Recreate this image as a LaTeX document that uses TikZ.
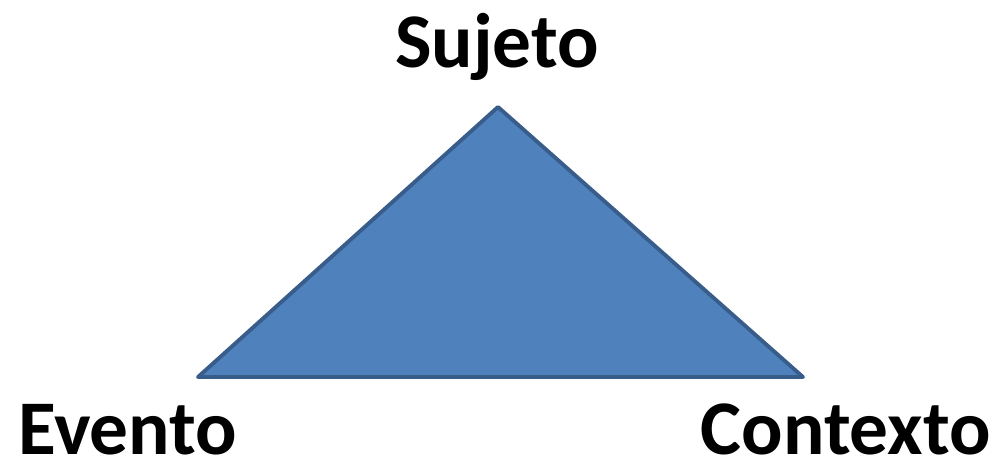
\documentclass[tikz,border=0pt]{standalone}
\usepackage{fontspec}
\setmainfont{Carlito}
\definecolor{triFill}{HTML}{4F81BD}
\definecolor{triLine}{HTML}{385D8A}
\tikzset{
  vertexlabel/.style={font=\fontsize{44}{52}\selectfont\bfseries, inner sep=0pt},
}
\begin{document}
\begin{tikzpicture}[x=0.02cm, y=-0.02cm]
      \useasboundingbox (0,0) rectangle (1000,461);

      \coordinate (A) at (498,107);
      \coordinate (L) at (198,377);
      \coordinate (R) at (803,377);

      \draw[triLine, fill=triFill, line width=2.2pt, line join=round] (A) -- (L) -- (R) -- cycle;

      \node[vertexlabel, anchor=base] (S) at (497,67) {Sujeto};
      \node[vertexlabel, text depth=0pt, anchor=base west] (E) at (18,454) {Evento};
      \node[vertexlabel, text depth=0pt, anchor=base east] (C) at (991,454) {Contexto};
  \end{tikzpicture}
\end{document}
